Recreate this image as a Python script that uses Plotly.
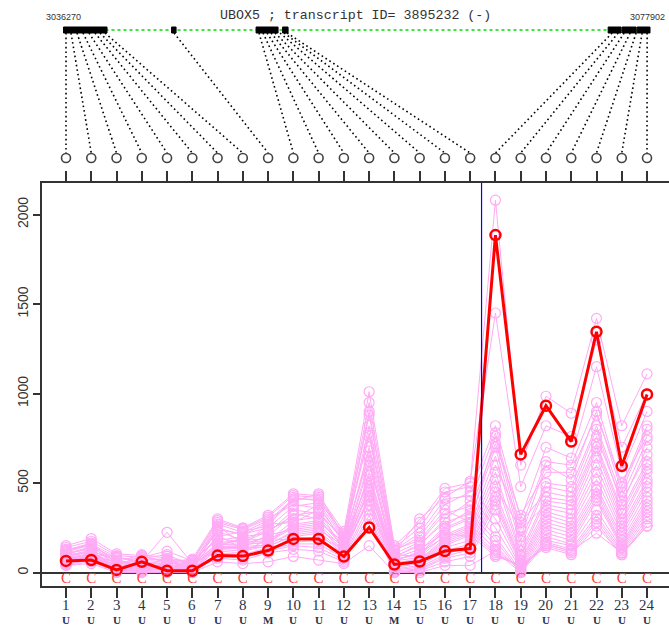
import plotly.graph_objects as go

# ---------------- data ----------------
probes = list(range(1, 25))
probe_types = ['U'] * 8 + ['M'] + ['U'] * 4 + ['M'] + ['U'] * 10
probe_calls = ['C'] * 24

gene_name = "UBOX5"
transcript_id = "3895232"
strand = "-"
gene_start = 3036270
gene_end = 3077902

exon_starts = [3036270, 3043940, 3049940, 3051820, 3074930, 3075920, 3076990]
exon_ends = [3039360, 3044260, 3051500, 3052210, 3075850, 3076920, 3077902]

probe_genomic = [3036448, 3036803, 3037229, 3037655, 3038080, 3038506, 3038862, 3039217,
                 3044116, 3050151, 3050435, 3050719, 3051003, 3051287, 3051642, 3051926,
                 3052139, 3075214, 3075640, 3076066, 3076492, 3076918, 3077344, 3077699]

highlight = [65, 70, 15, 60, 10, 10, 95, 92, 123, 188, 188, 90, 252, 45, 62, 120, 134,
             1885, 660, 932, 732, 1345, 595, 995]

s01 = [150, 190, 105, 95, 60, 75, 300, 250, 320, 440, 430, 230, 1010, 150, 280, 470, 500, 2080, 600, 985, 890, 1420, 820, 1110]
s02 = [120, 160, 85, 60, 225, 50, 250, 210, 280, 400, 440, 200, 900, 110, 300, 420, 510, 1450, 480, 820, 760, 1300, 700, 1000]
s03 = [100, 140, 60, 100, 80, 60, 280, 240, 300, 380, 360, 180, 820, 120, 200, 380, 450, 820, 300, 700, 640, 1150, 560, 900]
s04 = [90, 120, 70, 40, 40, 30, 200, 230, 260, 420, 400, 220, 760, 90, 150, 300, 400, 780, 250, 620, 600, 950, 480, 820]
s05 = [130, 150, 40, 80, 100, 40, 230, 180, 240, 300, 380, 160, 700, 130, 180, 350, 280, 760, 200, 600, 520, 900, 450, 800]
s06 = [80, 100, 90, 50, 30, 70, 180, 200, 220, 350, 330, 190, 650, 60, 120, 260, 350, 720, 320, 560, 560, 880, 500, 760]
s07 = [110, 130, 50, 70, 70, 20, 260, 160, 200, 330, 300, 140, 600, 100, 90, 240, 300, 700, 180, 500, 480, 820, 420, 740]
s08 = [70, 110, 30, 30, 50, 50, 160, 150, 270, 280, 350, 120, 560, 70, 110, 200, 260, 650, 150, 480, 450, 800, 380, 700]
s09 = [60, 90, 60, 20, 90, 10, 150, 190, 180, 260, 280, 170, 520, 50, 70, 180, 240, 600, 280, 450, 420, 760, 400, 660]
s10 = [95, 125, 20, 60, 20, 35, 140, 140, 210, 240, 260, 110, 480, 40, 60, 160, 220, 560, 120, 420, 400, 720, 350, 620]
s11 = [55, 80, 45, 90, 60, 25, 210, 130, 160, 220, 240, 150, 450, 80, 130, 220, 200, 520, 100, 400, 380, 700, 330, 600]
s12 = [85, 105, 55, 35, 45, 15, 130, 120, 150, 200, 220, 100, 420, 30, 50, 140, 180, 480, 240, 380, 350, 680, 300, 580]
s13 = [65, 95, 35, 45, 10, 55, 120, 110, 190, 180, 200, 130, 400, 20, 40, 120, 160, 450, 90, 360, 330, 640, 280, 560]
s14 = [75, 85, 25, 25, 35, 5, 110, 100, 140, 170, 180, 90, 380, 15, 30, 100, 150, 420, 70, 340, 300, 600, 260, 520]
s15 = [50, 75, 10, 15, 25, 20, 100, 90, 130, 160, 160, 80, 350, 10, 20, 90, 130, 400, 60, 320, 280, 560, 240, 500]
s16 = [45, 70, 15, 10, 15, 0, 90, 80, 120, 150, 140, 70, 320, 5, 15, 80, 110, 380, 50, 300, 260, 520, 220, 480]
s17 = [40, 60, 5, 5, 5, 10, 80, 70, 110, 130, 120, 60, 300, 0, 10, 60, 90, 350, 40, 280, 240, 480, 200, 450]
s18 = [140, 175, 95, 85, 120, 65, 290, 245, 310, 430, 420, 210, 950, 140, 250, 450, 480, 300, 30, 260, 220, 460, 180, 420]
s19 = [105, 145, 80, 75, 75, 45, 270, 225, 290, 410, 410, 195, 880, 125, 220, 410, 430, 250, 20, 240, 200, 440, 160, 400]
s20 = [115, 155, 65, 55, 65, 35, 240, 215, 250, 370, 390, 185, 780, 105, 170, 330, 370, 200, 10, 220, 180, 420, 150, 380]
s21 = [125, 165, 50, 50, 55, 65, 190, 170, 230, 320, 340, 175, 680, 85, 160, 280, 330, 180, 0, 200, 160, 400, 140, 360]
s22 = [90, 115, 40, 30, 45, 30, 170, 175, 175, 290, 310, 155, 620, 75, 100, 250, 310, 150, 5, 180, 150, 350, 130, 340]
s23 = [60, 100, 25, 20, 30, 25, 165, 165, 165, 270, 290, 145, 540, 65, 85, 210, 270, 130, 15, 170, 130, 320, 120, 320]
s24 = [70, 90, 20, 15, 20, 15, 155, 155, 170, 250, 270, 135, 500, 55, 75, 190, 250, 110, 25, 160, 120, 300, 110, 300]
s25 = [80, 95, 30, 40, 40, 40, 145, 145, 155, 230, 250, 125, 460, 45, 65, 170, 230, 100, 35, 150, 110, 280, 100, 280]
s26 = [100, 110, 35, 55, 50, 5, 135, 135, 145, 210, 230, 115, 430, 35, 55, 150, 210, 90, 45, 140, 100, 260, 100, 260]
s27 = [40, 50, 0, 0, 0, 0, 60, 50, 60, 90, 70, 50, 150, 0, 0, 40, 40, 120, 0, 160, 120, 220, 110, 260]
samples = [s01, s02, s03, s04, s05, s06, s07, s08, s09, s10, s11, s12, s13, s14,
           s15, s16, s17, s18, s19, s20, s21, s22, s23, s24, s25, s26, s27]

boundary_x = 17.45
y_ticks = [0, 500, 1000, 1500, 2000]

# ---------------- layout constants ----------------
W, H = 669, 627
X_RANGE = [0.05, 24.87]
Y_RANGE = [-75, 2176]
SPLIT = 0.6877
TRACK_RANGE = [0, 183]
GENE_Y = 153
LINE_TOP = 150
LINE_BOT = 30
CIRCLE_Y = 25
TITLE_Y = 168
COORD_Y = 166
CALL_Y = -38
NUM_Y = -0.0325
TYPE_Y = -0.0575
span = gene_end - gene_start
G_RANGE = [gene_start - 0.03666 * span, gene_end + 0.0324 * span]

PINK = 'rgb(255,170,245)'
RED = '#FF0000'
DARK = '#333333'
LABEL = '#2b3348'


def idx_to_genomic(i):
    return G_RANGE[0] + (i - X_RANGE[0]) / (X_RANGE[1] - X_RANGE[0]) * (G_RANGE[1] - G_RANGE[0])


fig = go.Figure()

# pink sample lines
for s in samples:
    fig.add_trace(go.Scatter(
        x=probes, y=s, mode='lines+markers',
        line=dict(color=PINK, width=1),
        marker=dict(symbol='circle-open', size=10, color=PINK, line=dict(width=1.2)),
        hoverinfo='skip', showlegend=False))

# highlighted sample
fig.add_trace(go.Scatter(
    x=probes, y=highlight, mode='lines+markers',
    line=dict(color=RED, width=3),
    marker=dict(symbol='circle-open', size=10, color=RED, line=dict(width=2.5)),
    showlegend=False))

# call letters
fig.add_trace(go.Scatter(
    x=probes, y=[CALL_Y] * len(probes), mode='text', text=probe_calls,
    textfont=dict(family='Liberation Serif', size=15, color='#FF3B3B'),
    showlegend=False, hoverinfo='skip'))

# connectors (in genomic-axis coordinates)
cx, cy = [], []
for p, g in zip(probes, probe_genomic):
    cx += [g, idx_to_genomic(p), None]
    cy += [LINE_TOP, LINE_BOT, None]
fig.add_trace(go.Scatter(
    x=cx, y=cy, xaxis='x2', yaxis='y2', mode='lines',
    line=dict(color='black', width=1.6, dash='1.6px,3px'),
    showlegend=False, hoverinfo='skip'))

# probe circles
fig.add_trace(go.Scatter(
    x=[idx_to_genomic(p) for p in probes], y=[CIRCLE_Y] * len(probes),
    xaxis='x2', yaxis='y2', mode='markers',
    marker=dict(symbol='circle-open', size=9, color='#444444', line=dict(width=1.6)),
    showlegend=False, hoverinfo='skip'))

shapes = []
# intron line
shapes.append(dict(type='line', xref='x2', yref='y2', x0=gene_start, x1=gene_end,
                   y0=GENE_Y, y1=GENE_Y, line=dict(color='#00DD00', width=1.6, dash='dot')))
for a, b in zip(exon_starts, exon_ends):
    shapes.append(dict(type='rect', xref='x2', yref='y2', x0=a, x1=b,
                       y0=GENE_Y - 3, y1=GENE_Y + 3, fillcolor='black',
                       line=dict(color='black', width=1)))
# boundary line
shapes.append(dict(type='line', xref='x', yref='y', x0=boundary_x, x1=boundary_x,
                   y0=0, y1=Y_RANGE[1], line=dict(color='#0000FF', width=1.2)))

annotations = [
    dict(text=f"{gene_name} ; transcript ID= {transcript_id} ({strand})",
         xref='paper', yref='y2', x=0.5, y=TITLE_Y, showarrow=False,
         font=dict(family='Liberation Mono', size=13.3, color=DARK)),
    dict(text=str(gene_start), xref='x2', yref='y2', x=gene_start, y=COORD_Y,
         showarrow=False, font=dict(family='Liberation Sans', size=9, color=DARK)),
    dict(text=str(gene_end), xref='x2', yref='y2', x=gene_end, y=COORD_Y, xshift=-3,
         showarrow=False, font=dict(family='Liberation Sans', size=9, color=DARK)),
]
for p, t in zip(probes, probe_types):
    annotations.append(dict(text=str(p), xref='x', yref='paper', x=p, y=NUM_Y,
                            showarrow=False, yanchor='middle',
                            font=dict(family='Liberation Serif', size=15, color=LABEL)))
    annotations.append(dict(text=f"<b>{t}</b>", xref='x', yref='paper', x=p, y=TYPE_Y,
                            showarrow=False, yanchor='middle',
                            font=dict(family='Liberation Serif', size=11, color=LABEL)))

fig.update_layout(
    width=W, height=H,
    margin=dict(l=42, r=0, t=0, b=41),
    paper_bgcolor='white', plot_bgcolor='white',
    showlegend=False,
    shapes=shapes, annotations=annotations,
    xaxis=dict(domain=[0, 1], range=X_RANGE, anchor='y', automargin=False,
               tickvals=probes, showticklabels=False,
               ticks='outside', ticklen=10, tickwidth=1.5, tickcolor=DARK,
               showline=True, linecolor=DARK, linewidth=1.5, mirror='ticks',
               showgrid=False, zeroline=False),
    yaxis=dict(domain=[0, SPLIT], range=Y_RANGE, anchor='x', automargin=False,
               tickvals=y_ticks, ticks='outside', ticklen=7, tickwidth=1.5,
               tickcolor=DARK, showline=True, linecolor=DARK, linewidth=1.5,
               showgrid=False, zeroline=True, zerolinecolor=DARK, zerolinewidth=1.5,
               tickangle=-90,
               tickfont=dict(family='Liberation Sans', size=14, color=DARK)),
    xaxis2=dict(domain=[0, 1], range=G_RANGE, anchor='y2', visible=False, automargin=False),
    yaxis2=dict(domain=[SPLIT, 1], range=TRACK_RANGE, anchor='x2', visible=False,
                automargin=False),
)

fig.write_html("out.html", config={'displayModeBar': False},
               post_script="document.body.style.margin='0px';document.body.style.overflow='hidden';")
